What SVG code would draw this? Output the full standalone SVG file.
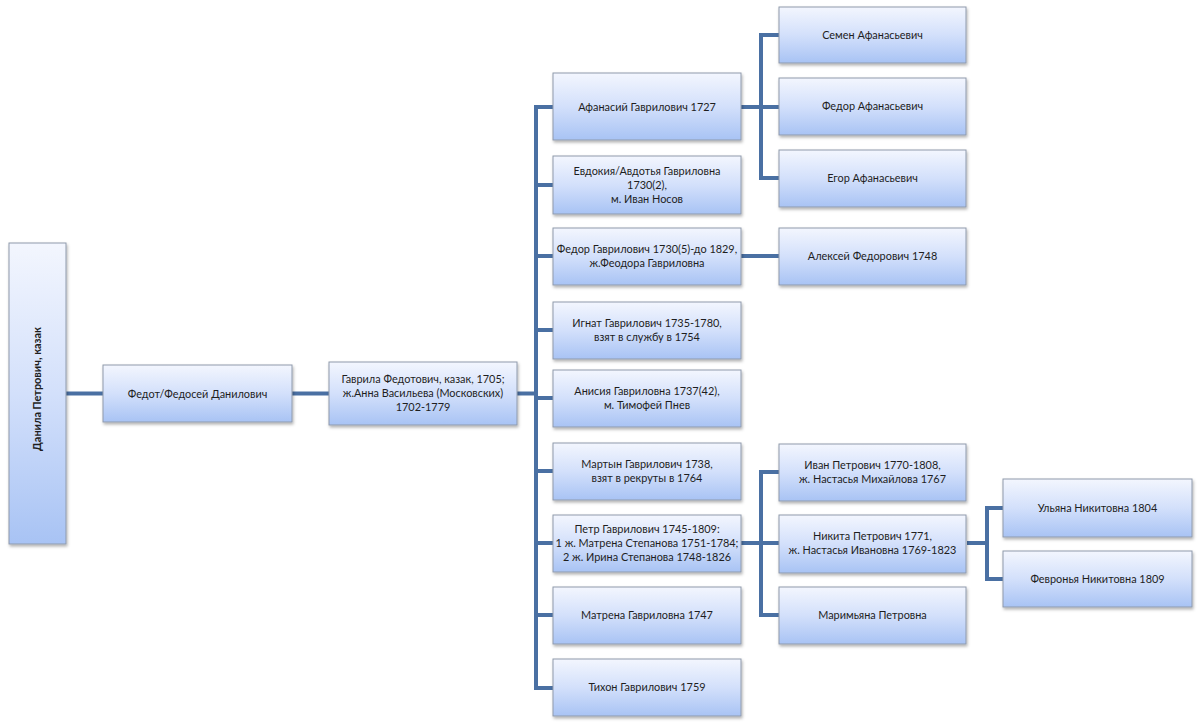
<svg xmlns="http://www.w3.org/2000/svg" width="1200" height="724" viewBox="0 0 1200 724">
<defs>
<linearGradient id="g" x1="0" y1="0" x2="0" y2="1">
<stop offset="0" stop-color="#f3f6fe"/>
<stop offset="0.5" stop-color="#d3e0fb"/>
<stop offset="1" stop-color="#a8c3f4"/>
</linearGradient>
<filter id="sh" x="-10%" y="-10%" width="130%" height="140%">
<feDropShadow dx="1" dy="2" stdDeviation="1.5" flood-color="#000" flood-opacity="0.3"/>
</filter>
</defs>
<style>
.b{fill:url(#g);stroke:#8f9aac;stroke-width:1;filter:url(#sh)}
.t{font-family:Lato,"Liberation Sans",sans-serif;font-size:10.9px;fill:#1e1e1e;text-anchor:middle}
.c{fill:none;stroke:#4a70a3;stroke-width:4}
</style>
<rect width="1200" height="724" fill="#fff"/>
<g id="connectors">
<path class="c" d="M66 393.5H103"/>
<path class="c" d="M292 393.5H329"/>
<path class="c" d="M517 393.5H536"/>
<path class="c" d="M553 107H536V688H553 M536 185H553 M536 256H553 M536 330H553 M536 398H553 M536 471H553 M536 543H553 M536 615H553"/>
<path class="c" d="M741 107H761 M779 35H761V178H779 M761 107H779"/>
<path class="c" d="M741 256H779"/>
<path class="c" d="M741 543H761 M779 472H761V615H779 M761 543H779"/>
<path class="c" d="M967 543H987 M1003 508H987V579H1003"/>
</g>
<g id="n0"><rect class="b" x="9" y="243" width="57" height="301"/><text class="t" font-weight="bold" font-size="10.2px" transform="translate(41 389) rotate(-90)">Данила Петрович, казак</text></g>
<g id="n1"><rect class="b" x="103" y="365" width="189" height="57"/><text class="t" x="197.5" y="397.5">Федот/Федосей Данилович</text></g>
<g id="n2"><rect class="b" x="329" y="362" width="188" height="63"/><text class="t" x="423" y="383">Гаврила Федотович, казак, 1705;</text><text class="t" x="423" y="397">ж.Анна Васильева (Московских)</text><text class="t" x="423" y="411">1702-1779</text></g>
<g id="n3"><rect class="b" x="553" y="73" width="188" height="67"/><text class="t" x="647" y="111">Афанасий Гаврилович 1727</text></g>
<g id="n4"><rect class="b" x="553" y="156" width="188" height="58"/><text class="t" x="647" y="175">Евдокия/Авдотья Гавриловна</text><text class="t" x="647" y="189">1730(2),</text><text class="t" x="647" y="203">м. Иван Носов</text></g>
<g id="n5"><rect class="b" x="553" y="228" width="188" height="57"/><text class="t" x="647" y="253">Федор Гаврилович 1730(5)-до 1829,</text><text class="t" x="647" y="267">ж.Феодора Гавриловна</text></g>
<g id="n6"><rect class="b" x="553" y="302" width="188" height="57"/><text class="t" x="647" y="327">Игнат Гаврилович 1735-1780,</text><text class="t" x="647" y="341">взят в службу в 1754</text></g>
<g id="n7"><rect class="b" x="553" y="370" width="188" height="57"/><text class="t" x="647" y="395">Анисия Гавриловна 1737(42),</text><text class="t" x="647" y="409">м. Тимофей Пнев</text></g>
<g id="n8"><rect class="b" x="553" y="443" width="188" height="57"/><text class="t" x="647" y="468">Мартын Гаврилович 1738,</text><text class="t" x="647" y="482">взят в рекруты в 1764</text></g>
<g id="n9"><rect class="b" x="553" y="515" width="188" height="57"/><text class="t" x="647" y="533">Петр Гаврилович 1745-1809:</text><text class="t" x="647" y="547">1 ж. Матрена Степанова 1751-1784;</text><text class="t" x="647" y="561">2 ж. Ирина Степанова 1748-1826</text></g>
<g id="n10"><rect class="b" x="553" y="587" width="188" height="57"/><text class="t" x="647" y="619">Матрена Гавриловна 1747</text></g>
<g id="n11"><rect class="b" x="553" y="659" width="188" height="57"/><text class="t" x="647" y="691">Тихон Гаврилович 1759</text></g>
<g id="n12"><rect class="b" x="779" y="7" width="187" height="56"/><text class="t" x="872.5" y="39">Семен Афанасьевич</text></g>
<g id="n13"><rect class="b" x="779" y="78" width="187" height="57"/><text class="t" x="872.5" y="110">Федор Афанасьевич</text></g>
<g id="n14"><rect class="b" x="779" y="150" width="187" height="57"/><text class="t" x="872.5" y="182">Егор Афанасьевич</text></g>
<g id="n15"><rect class="b" x="779" y="228" width="187" height="57"/><text class="t" x="872.5" y="260">Алексей Федорович 1748</text></g>
<g id="n16"><rect class="b" x="779" y="444" width="187" height="57"/><text class="t" x="872.5" y="469">Иван Петрович 1770-1808,</text><text class="t" x="872.5" y="483">ж. Настасья Михайлова 1767</text></g>
<g id="n17"><rect class="b" x="779" y="515" width="187" height="58"/><text class="t" x="872.5" y="540">Никита Петрович 1771,</text><text class="t" x="872.5" y="554">ж. Настасья Ивановна 1769-1823</text></g>
<g id="n18"><rect class="b" x="779" y="587" width="187" height="57"/><text class="t" x="872.5" y="619">Маримьяна Петровна</text></g>
<g id="n19"><rect class="b" x="1003" y="479" width="189" height="58"/><text class="t" x="1097.5" y="512">Ульяна Никитовна 1804</text></g>
<g id="n20"><rect class="b" x="1003" y="551" width="189" height="56"/><text class="t" x="1097.5" y="583">Февронья Никитовна 1809</text></g>
</svg>
